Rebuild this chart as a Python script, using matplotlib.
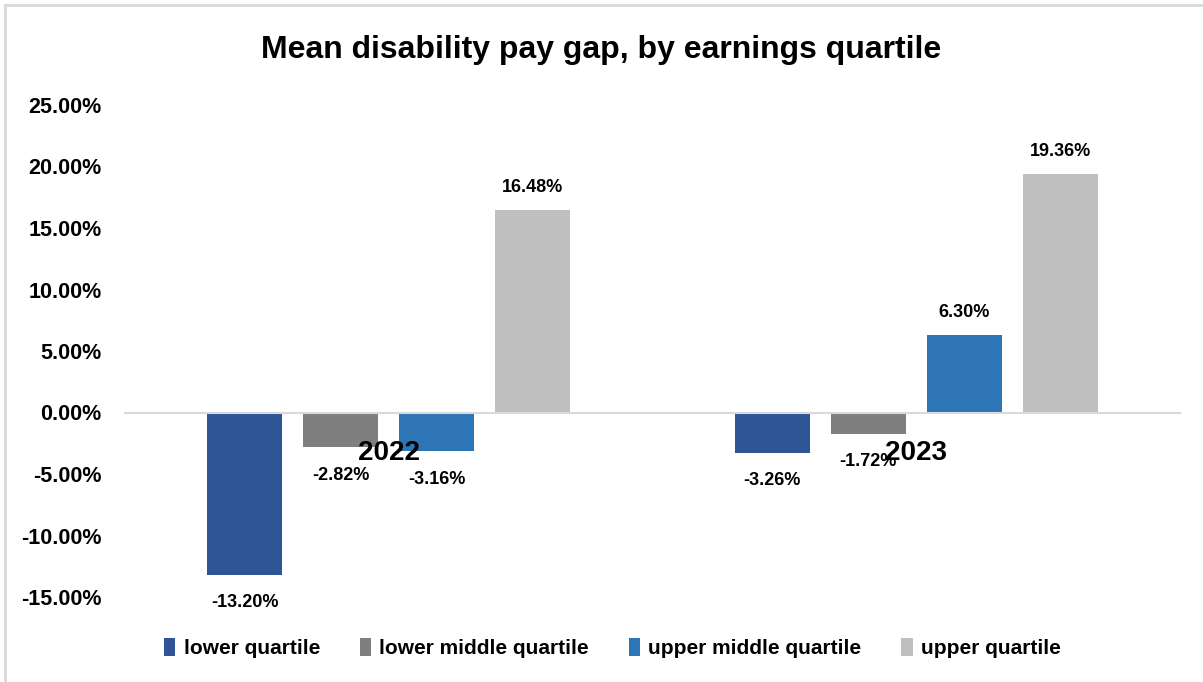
import numpy as np
import matplotlib.pyplot as plt
from matplotlib.lines import Line2D

plt.rcParams['font.family'] = ['Liberation Sans', 'DejaVu Sans']
plt.rcParams['font.weight'] = 'bold'

# === Data ===
years = ["2022", "2023"]
quartiles = ["lower quartile", "lower middle quartile",
             "upper middle quartile", "upper quartile"]
lower_q = [-13.20, -3.26]
lower_mid_q = [-2.82, -1.72]
upper_mid_q = [-3.16, 6.30]
upper_q = [16.48, 19.36]
colors = ["#2F5597", "#7F7F7F", "#2E75B6", "#BFBFBF"]

series = [lower_q, lower_mid_q, upper_mid_q, upper_q]

# === Figure ===
fig = plt.figure(figsize=(12.03, 6.82), dpi=100)
ax = fig.add_axes([125 / 1203, 1 - 597 / 682, 1055 / 1203, 492 / 682])

x = np.arange(len(years))
step = 0.182
width = 0.142
for i, (vals, name, c) in enumerate(zip(series, quartiles, colors)):
    pos = x + (i - 1.5) * step
    bars = ax.bar(pos, vals, width, color=c, label=name, zorder=1)
    for b, v in zip(bars, vals):
        if v >= 0:
            ax.annotate(f"{v:.2f}%", (b.get_x() + b.get_width() / 2, v),
                        xytext=(0, 10), textcoords="offset points",
                        ha="center", va="bottom", fontsize=13,
                        fontweight="bold", zorder=5)
        else:
            ax.annotate(f"{v:.2f}%", (b.get_x() + b.get_width() / 2, v),
                        xytext=(0, -14), textcoords="offset points",
                        ha="center", va="top", fontsize=13,
                        fontweight="bold", zorder=5)

ax.set_xlim(-0.5, 1.5)
ax.set_ylim(-15, 25)
ax.set_yticks(np.arange(-15, 26, 5))
ax.set_yticklabels([f"{t:.2f}%" for t in np.arange(-15, 26, 5)],
                   fontsize=15.5, fontweight="bold")
ax.tick_params(axis="y", length=0, pad=17)

# category axis sits on the zero line
ax.spines["bottom"].set_position(("data", 0))
ax.spines["bottom"].set_color("#D9D9D9")
ax.spines["bottom"].set_linewidth(1.5)
for s in ["top", "right", "left"]:
    ax.spines[s].set_visible(False)
ax.set_xticks(x)
ax.set_xticklabels(years, fontsize=20, fontweight="bold")
ax.tick_params(axis="x", length=0, pad=20)

fig.text(0.5, 1 - 50 / 682, "Mean disability pay gap, by earnings quartile",
         ha="center", va="center", fontsize=23, fontweight="bold")

fig.legend(loc="center", bbox_to_anchor=(0.509, 1 - 648 / 682), ncol=4,
           frameon=False, handlelength=0.55, handleheight=1.0,
           handletextpad=0.4, columnspacing=1.9,
           prop={"weight": "bold", "size": 15})

# chart border
fig.add_artist(Line2D([5 / 1203, 5 / 1203], [0, 1 - 5 / 682],
                      transform=fig.transFigure, color="#D9D9D9", lw=2))
fig.add_artist(Line2D([5 / 1203, 1], [1 - 5 / 682, 1 - 5 / 682],
                      transform=fig.transFigure, color="#D9D9D9", lw=2))

fig.savefig("out.png", dpi=100, facecolor="white")
